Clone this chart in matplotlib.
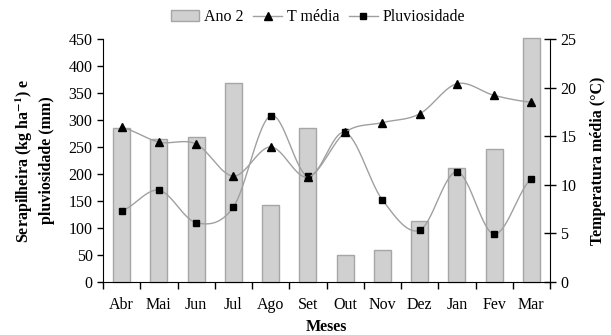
import numpy as np
import matplotlib
matplotlib.use('Agg')
import matplotlib.pyplot as plt

plt.rcParams['font.family'] = ['Liberation Serif', 'DejaVu Serif']
plt.rcParams['mathtext.fontset'] = 'stix'

# data
meses = ['Abr', 'Mai', 'Jun', 'Jul', 'Ago', 'Set', 'Out', 'Nov', 'Dez', 'Jan', 'Fev', 'Mar']
ano2 = [285, 265, 269, 369, 143, 286, 50, 59, 113, 211, 247, 452]
t_media = [15.9, 14.4, 14.2, 10.9, 13.9, 10.8, 15.4, 16.4, 17.3, 20.4, 19.2, 18.5]
pluviosidade = [132, 170, 110, 139, 308, 196, 277, 152, 96, 204, 89, 191]


# smooth line through the points (like the spreadsheet "smoothed line")
def smooth(y, n=30):
    y = np.asarray(y, dtype=float)
    x = np.arange(len(y), dtype=float)
    xs, ys = [], []
    for i in range(len(y) - 1):
        y0 = y[i - 1] if i > 0 else y[i]
        y3 = y[i + 2] if i + 2 < len(y) else y[i + 1]
        y1, y2 = y[i], y[i + 1]
        t = np.linspace(0, 1, n, endpoint=False)
        yy = 0.5 * ((2 * y1) + (-y0 + y2) * t + (2 * y0 - 5 * y1 + 4 * y2 - y3) * t ** 2
                    + (-y0 + 3 * y1 - 3 * y2 + y3) * t ** 3)
        xs.append(x[i] + t)
        ys.append(yy)
    xs.append([x[-1]])
    ys.append([y[-1]])
    return np.concatenate(xs), np.concatenate(ys)


fs = 11.5

fig = plt.figure(figsize=(6.11, 3.35), dpi=100)
ax = fig.add_axes([0.1686, 0.158, 0.7316, 0.7256])
ax2 = ax.twinx()

pos = np.arange(len(meses))
bars = ax.bar(pos, ano2, width=0.46, color='#d0d0d0', edgecolor='#a6a6a6',
              linewidth=1, zorder=1, clip_on=False, label='Ano 2')

px, py = smooth(pluviosidade)
ax.plot(px, py, color='#a0a0a0', lw=1, zorder=3)
lp, = ax.plot(pos, pluviosidade, ls='none', marker='s', ms=4.8, color='black', zorder=4)

tx, ty = smooth(t_media)
ax2.plot(tx, ty, color='#a0a0a0', lw=1, zorder=3)
lt, = ax2.plot(pos, t_media, ls='none', marker='^', ms=5.5, color='black', zorder=4)

ax.set_xlim(-0.5, len(meses) - 0.5)
ax.set_ylim(0, 450)
ax.set_yticks(np.arange(0, 451, 50))
ax2.set_ylim(0, 25)
ax2.set_yticks(np.arange(0, 26, 5))

ax.set_xticks(np.arange(-0.5, len(meses), 1))
ax.set_xticklabels([])
ax.set_xticks(pos, minor=True)
ax.set_xticklabels(meses, minor=True)
ax.tick_params(axis='x', which='major', direction='out', length=5, width=1)
ax.tick_params(axis='x', which='minor', length=0, labelsize=fs, pad=11)
ax.tick_params(axis='y', direction='out', length=4, width=1, labelsize=fs)
ax2.tick_params(axis='y', direction='inout', length=8, width=1, labelsize=fs)

for a in (ax, ax2):
    a.spines['top'].set_visible(False)
ax.spines['right'].set_visible(False)
ax2.spines['left'].set_visible(False)
ax2.spines['bottom'].set_visible(False)

ax.set_xlabel('Meses', fontweight='bold', fontsize=fs, labelpad=4)
ax.set_ylabel('Serapilheira (kg ha$^{\\mathbf{-1}}$) e\npluviosidade (mm)',
              fontweight='bold', fontsize=fs, labelpad=10, linespacing=1.35)
ax2.set_ylabel('Temperatura média (°C)', fontweight='bold', fontsize=fs, labelpad=10)

h_t = plt.Line2D([], [], color='#a0a0a0', lw=1, marker='^', ms=5.5,
                 markerfacecolor='black', markeredgecolor='black')
h_p = plt.Line2D([], [], color='#a0a0a0', lw=1, marker='s', ms=4.8,
                 markerfacecolor='black', markeredgecolor='black')
fig.legend([bars, h_t, h_p], ['Ano 2', 'T média', 'Pluviosidade'],
           loc='center', bbox_to_anchor=(0.52, 0.948), ncol=3, frameon=False,
           fontsize=fs, handlelength=1.8, handletextpad=0.3, columnspacing=0.6)

fig.savefig('out.png', dpi=100)
